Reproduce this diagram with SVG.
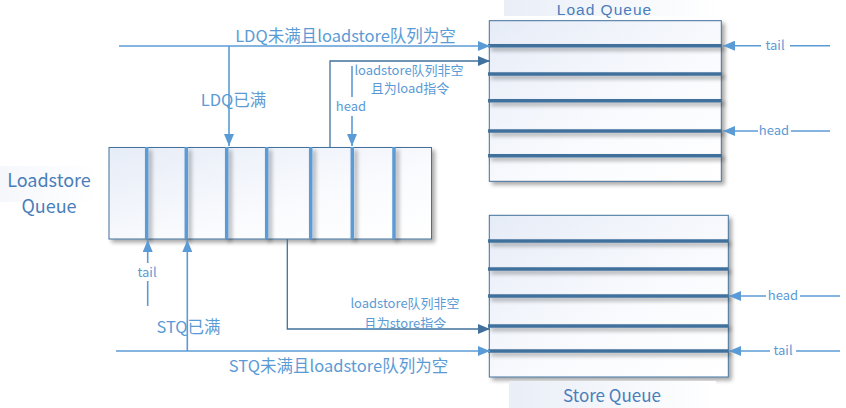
<svg xmlns="http://www.w3.org/2000/svg" width="846" height="408" viewBox="0 0 846 408">
<defs>
<linearGradient id="fill" x1="0" y1="0" x2="1" y2="1">
<stop offset="0" stop-color="#E6ECF7"/>
<stop offset="0.6" stop-color="#FAFBFE"/>
<stop offset="1" stop-color="#FFFFFF"/>
</linearGradient>
<linearGradient id="lblfill" x1="0" y1="0" x2="1" y2="0">
<stop offset="0" stop-color="#E9EEF7"/>
<stop offset="1" stop-color="#FFFFFF"/>
</linearGradient>
<filter id="sh" x="-10%" y="-10%" width="130%" height="140%">
<feGaussianBlur in="SourceAlpha" stdDeviation="2"/>
<feOffset dx="3" dy="3" result="b"/>
<feComponentTransfer><feFuncA type="linear" slope="0.35"/></feComponentTransfer>
<feMerge><feMergeNode/><feMergeNode in="SourceGraphic"/></feMerge>
</filter>
<marker id="aL" viewBox="0 0 12 10" refX="12" refY="5" markerWidth="12" markerHeight="10" markerUnits="userSpaceOnUse" orient="auto">
<path d="M0,0 L12,5 L0,10 z" fill="#5B9BD5"/>
</marker>
<marker id="aD" viewBox="0 0 12 10" refX="12" refY="5" markerWidth="12" markerHeight="10" markerUnits="userSpaceOnUse" orient="auto">
<path d="M0,0 L12,5 L0,10 z" fill="#41719C"/>
</marker>
</defs>
<style>
.box{fill:url(#fill);stroke:#41719C;stroke-width:1}
.slot{stroke:#41719C;stroke-width:3.5}
.vslot{stroke:#5B9BD5;stroke-width:3.5}
.cl{fill:none;stroke:#5B9BD5;stroke-width:1.6}
.cd{fill:none;stroke:#41719C;stroke-width:1.3}
.t{font-family:"Noto Sans CJK SC","Liberation Sans",sans-serif;fill:#5B9BD5}
.title{font-family:"Noto Sans CJK SC","Liberation Sans",sans-serif;fill:#4A7EBB}
.qt{font-family:"Liberation Sans",sans-serif;fill:#4A7EBB}
</style>
<rect width="846" height="408" fill="#FFFFFF"/>

<g id="loadstore-queue">
<rect x="0" y="166" width="100" height="36" fill="url(#lblfill)" opacity="0.45"/>
<text class="title" x="49" y="187" font-size="18" text-anchor="middle">Loadstore</text>
<text class="title" x="49" y="213" font-size="18" text-anchor="middle">Queue</text>
<g filter="url(#sh)">
<rect class="box" x="109" y="147.5" width="322.5" height="91.5"/>
</g>
<g filter="url(#sh)">
<line class="vslot" x1="146.7" y1="147" x2="146.7" y2="239"/>
<line class="vslot" x1="186.3" y1="147" x2="186.3" y2="239"/>
<line class="vslot" x1="226.7" y1="147" x2="226.7" y2="239"/>
<line class="vslot" x1="266.7" y1="147" x2="266.7" y2="239"/>
<line class="vslot" x1="310.7" y1="147" x2="310.7" y2="239"/>
<line class="vslot" x1="352.3" y1="147" x2="352.3" y2="239"/>
<line class="vslot" x1="394" y1="147" x2="394" y2="239"/>
</g>
</g>

<g id="load-queue">
<rect x="504" y="0" width="216" height="16" fill="url(#lblfill)"/>
<text class="qt" x="604.5" y="15" font-size="15.5" letter-spacing="1" text-anchor="middle">Load Queue</text>
<g filter="url(#sh)">
<rect class="box" x="489.3" y="20.7" width="232" height="160.6"/>
</g>
<g filter="url(#sh)">
<line class="slot" x1="488" y1="45.7" x2="722" y2="45.7"/>
<line class="slot" x1="488" y1="74" x2="722" y2="74"/>
<line class="slot" x1="488" y1="100.7" x2="722" y2="100.7"/>
<line class="slot" x1="488" y1="131" x2="722" y2="131"/>
<line class="slot" x1="488" y1="155.7" x2="722" y2="155.7"/>
</g>
</g>

<g id="store-queue">
<g filter="url(#sh)">
<rect class="box" x="489.3" y="215.3" width="239" height="161.7"/>
</g>
<g filter="url(#sh)">
<line class="slot" x1="488" y1="241" x2="728" y2="241"/>
<line class="slot" x1="488" y1="269" x2="728" y2="269"/>
<line class="slot" x1="488" y1="296" x2="728" y2="296"/>
<line class="slot" x1="488" y1="326" x2="728" y2="326"/>
<line class="slot" x1="488" y1="351" x2="728" y2="351"/>
</g>
<rect x="509" y="381" width="207" height="27" fill="url(#lblfill)"/>
<text class="title" x="612" y="402" font-size="17" text-anchor="middle">Store Queue</text>
</g>

<g id="connectors">
<line class="cl" x1="119" y1="46" x2="490" y2="46" marker-end="url(#aL)"/>
<text class="t" x="345.5" y="42" font-size="16.5" text-anchor="middle">LDQ未满且loadstore队列为空</text>
<text class="t" x="233.5" y="106" font-size="16.5" text-anchor="middle">LDQ已满</text>
<line class="cl" x1="229" y1="46" x2="229" y2="146" marker-end="url(#aL)"/>
<polyline class="cd" points="330,147 330,61 490,61" marker-end="url(#aD)"/>
<text class="t" x="409" y="75" font-size="13" text-anchor="middle">loadstore队列非空</text>
<text class="t" x="410" y="93" font-size="13" text-anchor="middle">且为load指令</text>
<line class="cl" x1="352" y1="66" x2="352" y2="97"/>
<text class="t" x="351" y="111" font-size="13" text-anchor="middle">head</text>
<line class="cl" x1="352" y1="116" x2="352" y2="146" marker-end="url(#aL)"/>
<line class="cl" x1="830" y1="45.7" x2="790" y2="45.7"/>
<text class="t" x="775" y="50" font-size="13" text-anchor="middle">tail</text>
<line class="cl" x1="761" y1="45.7" x2="723" y2="45.7" marker-end="url(#aL)"/>
<line class="cl" x1="830" y1="131" x2="791" y2="131"/>
<text class="t" x="774" y="135" font-size="13" text-anchor="middle">head</text>
<line class="cl" x1="758" y1="131" x2="723" y2="131" marker-end="url(#aL)"/>
<line class="cl" x1="147.7" y1="306" x2="147.7" y2="281"/>
<text class="t" x="147" y="277" font-size="13" text-anchor="middle">tail</text>
<line class="cl" x1="147.7" y1="263" x2="147.7" y2="240" marker-end="url(#aL)"/>
<text class="t" x="188.5" y="333" font-size="16.5" text-anchor="middle">STQ已满</text>
<line class="cl" x1="187.3" y1="351" x2="187.3" y2="240" marker-end="url(#aL)"/>
<line class="cl" x1="116" y1="351" x2="490" y2="351" marker-end="url(#aL)"/>
<text class="t" x="338.5" y="372" font-size="16.5" text-anchor="middle">STQ未满且loadstore队列为空</text>
<polyline class="cd" points="287.3,239 287.3,329 490,329" marker-end="url(#aD)"/>
<text class="t" x="405" y="308" font-size="13" text-anchor="middle">loadstore队列非空</text>
<text class="t" x="405" y="328" font-size="13" text-anchor="middle">且为store指令</text>
<line class="cl" x1="840" y1="296" x2="800" y2="296"/>
<text class="t" x="783" y="300" font-size="13" text-anchor="middle">head</text>
<line class="cl" x1="766" y1="296" x2="729" y2="296" marker-end="url(#aL)"/>
<line class="cl" x1="840" y1="351" x2="796" y2="351"/>
<text class="t" x="783" y="355" font-size="13" text-anchor="middle">tail</text>
<line class="cl" x1="770" y1="351" x2="729" y2="351" marker-end="url(#aL)"/>
</g>
</svg>
